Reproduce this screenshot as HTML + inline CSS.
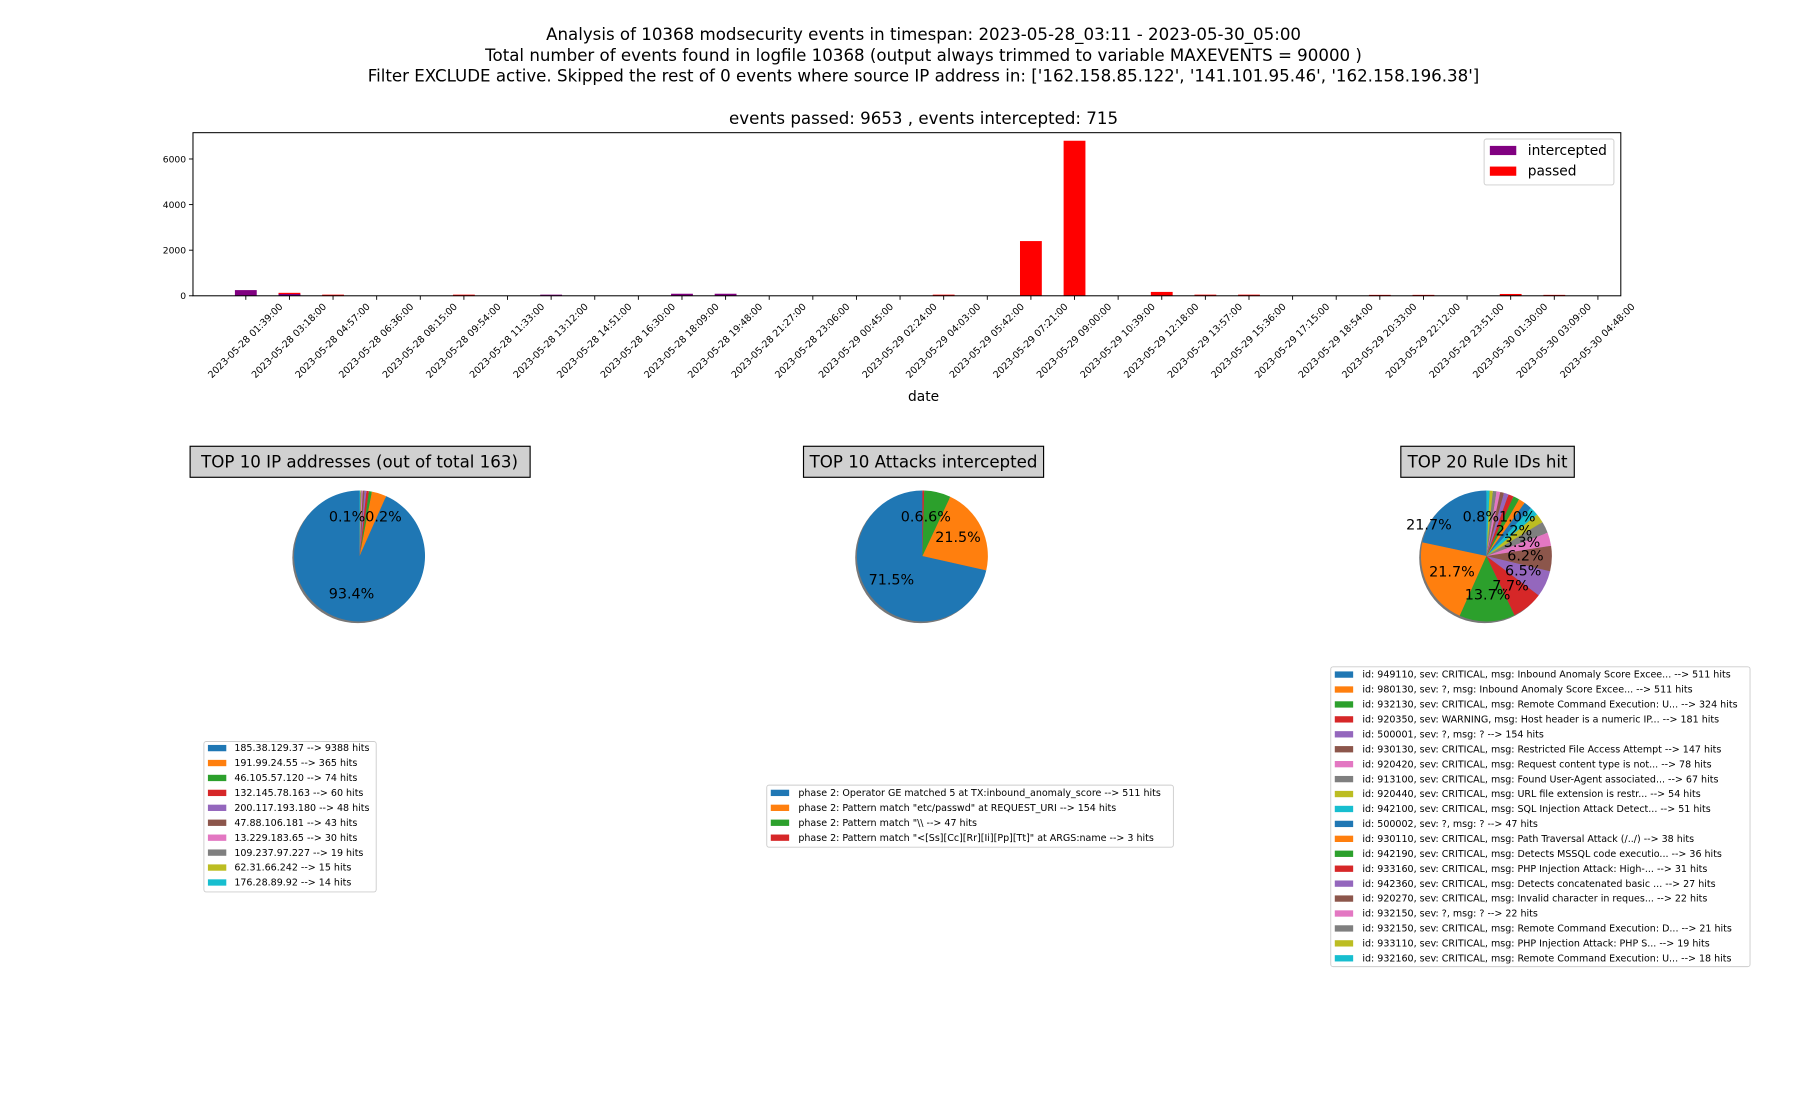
<!DOCTYPE html>
<html><head><meta charset="utf-8">
<style>
html,body{margin:0;padding:0;background:#fff;}
svg{display:block;font-family:"DejaVu Sans","Liberation Sans",sans-serif;}
.t{font-size:14.5px;text-anchor:middle;}
.yt{font-size:8px;text-anchor:end;}
.xt{font-size:8.3px;text-anchor:middle;dominant-baseline:central;}
.lg{font-size:8.3px;}
.pl{font-size:12.5px;text-anchor:middle;}
</style></head><body>
<svg id="s" width="1800" height="1100" viewBox="0 0 1567 957.6" xmlns="http://www.w3.org/2000/svg">
<text class="t" x="804" y="35">Analysis of 10368 modsecurity events in timespan: 2023-05-28_03:11 - 2023-05-30_05:00</text>
<text class="t" x="804" y="53">Total number of events found in logfile 10368 (output always trimmed to variable MAXEVENTS = 90000 )</text>
<text class="t" x="804" y="71">Filter EXCLUDE active. Skipped the rest of 0 events where source IP address in: ['162.158.85.122', '141.101.95.46', '162.158.196.38']</text>
<text class="t" x="804" y="108">events passed: 9653 , events intercepted: 715</text>

<g id="bars"></g>
<rect x="168" y="115.5" width="1243" height="142" fill="none" stroke="#000" stroke-width="0.9"/>
<g stroke="#000" stroke-width="0.8">
<line x1="164.5" y1="257.5" x2="168" y2="257.5"/><line x1="164.5" y1="217.8" x2="168" y2="217.8"/><line x1="164.5" y1="178.1" x2="168" y2="178.1"/><line x1="164.5" y1="138.4" x2="168" y2="138.4"/>
</g>
<text class="yt" x="162" y="260.5">0</text><text class="yt" x="162" y="220.8">2000</text><text class="yt" x="162" y="181.1">4000</text><text class="yt" x="162" y="141.4">6000</text>
<g id="xt"></g>
<text x="804" y="349" style="font-size:12px;text-anchor:middle">date</text>
<rect x="1292" y="121" width="113" height="40" rx="2" fill="#fff" stroke="#ccc" stroke-width="0.8"/>
<rect x="1297" y="127" width="23" height="8" fill="#800080"/>
<text x="1330" y="135" style="font-size:12px">intercepted</text>
<rect x="1297" y="145" width="23" height="8" fill="#ff0000"/>
<text x="1330" y="153" style="font-size:12px">passed</text>

<rect x="165.5" y="388.5" width="296" height="27" fill="#d0d0d0" stroke="#000" stroke-width="1"/>
<text x="313" y="407" style="font-size:14.5px;text-anchor:middle">TOP 10 IP addresses (out of total 163)</text>
<rect x="699.5" y="388.5" width="209" height="27" fill="#d0d0d0" stroke="#000" stroke-width="1"/>
<text x="804" y="407" style="font-size:14.5px;text-anchor:middle">TOP 10 Attacks intercepted</text>
<rect x="1219.5" y="388.5" width="151" height="27" fill="#d0d0d0" stroke="#000" stroke-width="1"/>
<text x="1295" y="407" style="font-size:14.5px;text-anchor:middle">TOP 20 Rule IDs hit</text>

<g id="pies"></g>
<text class="pl" x="306" y="521">93.4%</text>
<text class="pl" x="318" y="454">0.1%0.2%</text>
<text class="pl" x="776" y="509">71.5%</text>
<text class="pl" x="834" y="472">21.5%</text>
<text class="pl" x="806" y="454">0.6.6%</text>
<text class="pl" x="1244" y="461">21.7%</text>
<text class="pl" x="1264" y="502">21.7%</text>
<text class="pl" x="1295" y="522">13.7%</text>
<text class="pl" x="1315" y="514">7.7%</text>
<text class="pl" x="1326" y="501">6.5%</text>
<text class="pl" x="1328" y="488">6.2%</text>
<text class="pl" x="1325" y="476">3.3%</text>
<text class="pl" x="1305" y="454">0.8%1.0%</text>
<text class="pl" x="1318" y="466">2.2%</text>

<rect x="177.5" y="645.5" width="150" height="131" rx="2" fill="#fff" stroke="#ccc" stroke-width="0.8"/>
<g id="lg1"></g>
<g class="lg">
<text x="204" y="654">185.38.129.37 --&gt; 9388 hits</text>
<text x="204" y="667">191.99.24.55 --&gt; 365 hits</text>
<text x="204" y="680">46.105.57.120 --&gt; 74 hits</text>
<text x="204" y="693">132.145.78.163 --&gt; 60 hits</text>
<text x="204" y="706">200.117.193.180 --&gt; 48 hits</text>
<text x="204" y="719">47.88.106.181 --&gt; 43 hits</text>
<text x="204" y="732">13.229.183.65 --&gt; 30 hits</text>
<text x="204" y="745">109.237.97.227 --&gt; 19 hits</text>
<text x="204" y="758">62.31.66.242 --&gt; 15 hits</text>
<text x="204" y="771">176.28.89.92 --&gt; 14 hits</text>
</g>
<rect x="667.5" y="683.5" width="354" height="54" rx="2" fill="#fff" stroke="#ccc" stroke-width="0.8"/>
<g id="lg2"></g>
<g class="lg">
<text x="695" y="693">phase 2: Operator GE matched 5 at TX:inbound_anomaly_score --&gt; 511 hits</text>
<text x="695" y="706">phase 2: Pattern match "etc/passwd" at REQUEST_URI --&gt; 154 hits</text>
<text x="695" y="719">phase 2: Pattern match "\\ --&gt; 47 hits</text>
<text x="695" y="732">phase 2: Pattern match "&lt;[Ss][Cc][Rr][Ii][Pp][Tt]" at ARGS:name --&gt; 3 hits</text>
</g>
<rect x="1158.5" y="580.5" width="365" height="261" rx="2" fill="#fff" stroke="#ccc" stroke-width="0.8"/>
<g id="lg3"></g>
<g class="lg">
<text x="1186" y="590">id: 949110, sev: CRITICAL, msg: Inbound Anomaly Score Excee... --&gt; 511 hits</text>
<text x="1186" y="603">id: 980130, sev: ?, msg: Inbound Anomaly Score Excee... --&gt; 511 hits</text>
<text x="1186" y="616">id: 932130, sev: CRITICAL, msg: Remote Command Execution: U... --&gt; 324 hits</text>
<text x="1186" y="629">id: 920350, sev: WARNING, msg: Host header is a numeric IP... --&gt; 181 hits</text>
<text x="1186" y="642">id: 500001, sev: ?, msg: ? --&gt; 154 hits</text>
<text x="1186" y="655">id: 930130, sev: CRITICAL, msg: Restricted File Access Attempt --&gt; 147 hits</text>
<text x="1186" y="668">id: 920420, sev: CRITICAL, msg: Request content type is not... --&gt; 78 hits</text>
<text x="1186" y="681">id: 913100, sev: CRITICAL, msg: Found User-Agent associated... --&gt; 67 hits</text>
<text x="1186" y="694">id: 920440, sev: CRITICAL, msg: URL file extension is restr... --&gt; 54 hits</text>
<text x="1186" y="707">id: 942100, sev: CRITICAL, msg: SQL Injection Attack Detect... --&gt; 51 hits</text>
<text x="1186" y="720">id: 500002, sev: ?, msg: ? --&gt; 47 hits</text>
<text x="1186" y="733">id: 930110, sev: CRITICAL, msg: Path Traversal Attack (/../) --&gt; 38 hits</text>
<text x="1186" y="746">id: 942190, sev: CRITICAL, msg: Detects MSSQL code executio... --&gt; 36 hits</text>
<text x="1186" y="759">id: 933160, sev: CRITICAL, msg: PHP Injection Attack: High-... --&gt; 31 hits</text>
<text x="1186" y="772">id: 942360, sev: CRITICAL, msg: Detects concatenated basic ... --&gt; 27 hits</text>
<text x="1186" y="785">id: 920270, sev: CRITICAL, msg: Invalid character in reques... --&gt; 22 hits</text>
<text x="1186" y="798">id: 932150, sev: ?, msg: ? --&gt; 22 hits</text>
<text x="1186" y="811">id: 932150, sev: CRITICAL, msg: Remote Command Execution: D... --&gt; 21 hits</text>
<text x="1186" y="824">id: 933110, sev: CRITICAL, msg: PHP Injection Attack: PHP S... --&gt; 19 hits</text>
<text x="1186" y="837">id: 932160, sev: CRITICAL, msg: Remote Command Execution: U... --&gt; 18 hits</text>
</g>
</svg>
<script>
var NS="http://www.w3.org/2000/svg";
function el(p,t,a){var e=document.createElementNS(NS,t);for(var k in a)e.setAttribute(k,a[k]);p.appendChild(e);return e;}
var C=["#1f77b4","#ff7f0e","#2ca02c","#d62728","#9467bd","#8c564b","#e377c2","#7f7f7f","#bcbd22","#17becf"];
var bars=document.getElementById("bars");
function y(v){return 257.5-v*(119.1/6000);}
var red={1:130,2:50,5:50,16:50,18:2400,19:6800,21:170,22:50,23:50,26:40,27:40,29:80,30:40};
var pur={0:250,1:80,7:50,10:90,11:90};
for(var i=0;i<32;i++){var x=214+i*37.97;
 if(red[i])el(bars,"rect",{x:x-9.5,y:y(red[i]),width:19,height:257.5-y(red[i]),fill:"#ff0000"});
 if(pur[i])el(bars,"rect",{x:x-9.5,y:y(pur[i]),width:19,height:257.5-y(pur[i]),fill:"#800080"});
 el(bars,"line",{x1:x,y1:257.5,x2:x,y2:261,stroke:"#000","stroke-width":0.8});
}
var pies=document.getElementById("pies");
function pie(cx,cy,r,vals){var t=vals.reduce(function(a,b){return a+b},0);
 el(pies,"circle",{cx:cx-1.5,cy:cy+1.5,r:r,fill:"#777"});
 var a=90;for(var i=0;i<vals.length;i++){var d=vals[i]/t*360;var a2=a+d;
  var r1=a*Math.PI/180,r2=a2*Math.PI/180;
  var p="M"+cx+","+cy+" L"+(cx+r*Math.cos(r1))+","+(cy-r*Math.sin(r1))+" A"+r+","+r+" 0 "+(d>180?1:0)+" 0 "+(cx+r*Math.cos(r2))+","+(cy-r*Math.sin(r2))+" Z";
  el(pies,"path",{d:p,fill:C[i%10]});a=a2;}
}
pie(313,484,57,[9388,365,74,60,48,43,30,19,15,14]);
pie(803,484,57,[511,154,47,3]);
pie(1294,484,57,[511,511,324,181,154,147,78,67,54,51,47,38,36,31,27,22,22,21,19,18]);
function lg(id,x,y0,n){var g=document.getElementById(id);for(var i=0;i<n;i++)el(g,"rect",{x:x,y:y0+i*13,width:16,height:5.5,fill:C[i%10]});}
lg("lg1",181,648.5,10);lg("lg2",671,687.5,4);lg("lg3",1162,584.5,20);
var xt=document.getElementById("xt");
var labs=["2023-05-28 01:39:00","2023-05-28 03:18:00","2023-05-28 04:57:00","2023-05-28 06:36:00","2023-05-28 08:15:00","2023-05-28 09:54:00","2023-05-28 11:33:00","2023-05-28 13:12:00","2023-05-28 14:51:00","2023-05-28 16:30:00","2023-05-28 18:09:00","2023-05-28 19:48:00","2023-05-28 21:27:00","2023-05-28 23:06:00","2023-05-29 00:45:00","2023-05-29 02:24:00","2023-05-29 04:03:00","2023-05-29 05:42:00","2023-05-29 07:21:00","2023-05-29 09:00:00","2023-05-29 10:39:00","2023-05-29 12:18:00","2023-05-29 13:57:00","2023-05-29 15:36:00","2023-05-29 17:15:00","2023-05-29 18:54:00","2023-05-29 20:33:00","2023-05-29 22:12:00","2023-05-29 23:51:00","2023-05-30 01:30:00","2023-05-30 03:09:00","2023-05-30 04:48:00"];
for(var i=0;i<32;i++){var x=214+i*37.97,yy=297;var t=el(xt,"text",{"class":"xt",transform:"translate("+x+","+yy+") rotate(-45)"});t.textContent=labs[i];}
</script>
</body></html>
